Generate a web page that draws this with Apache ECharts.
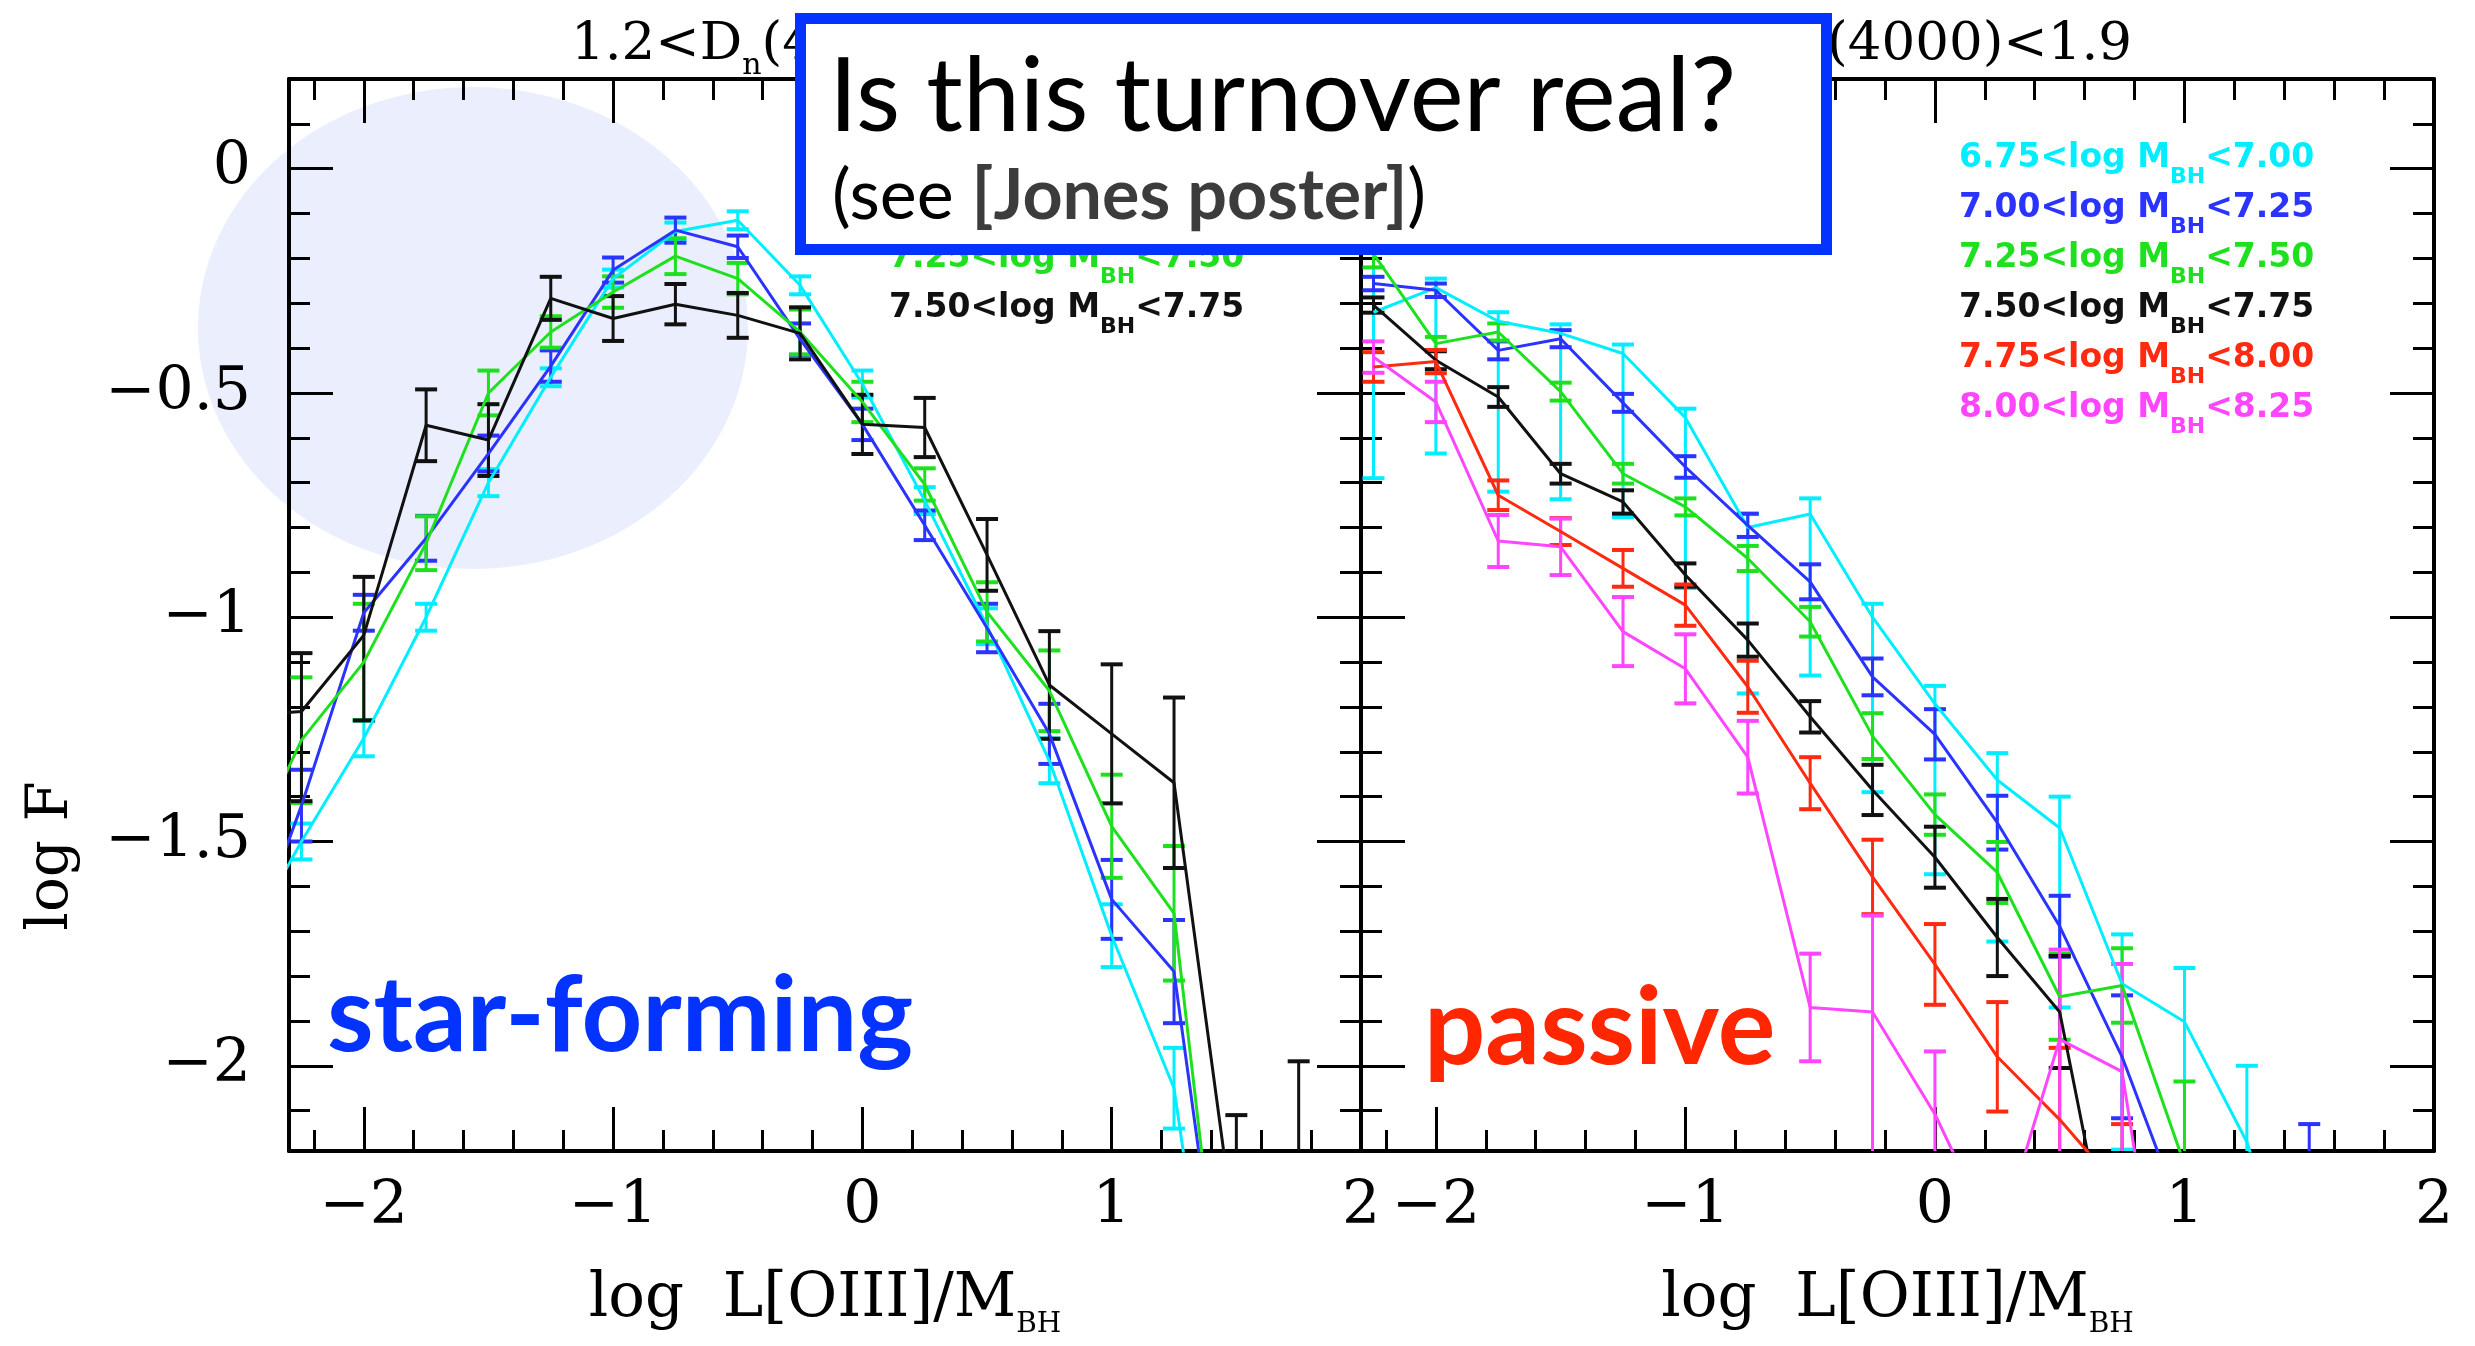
<!DOCTYPE html>
<html><head><meta charset="utf-8">
<script src="https://cdn.jsdelivr.net/npm/echarts@6/dist/echarts.min.js"></script>
<style>html,body{margin:0;padding:0;background:#fff}#c{width:2475px;height:1346px}</style>
</head><body><div id="c"></div>
<script>
// ---------- data ----------
const xLeft = [-2.5, -2.25, -2, -1.75, -1.5, -1.25, -1, -0.75, -0.5, -0.25, 0, 0.25, 0.5, 0.75, 1, 1.25, 1.5, 1.75];
const sfCyan  = [-1.75, -1.50, -1.27, -1.00, -0.70, -0.465, -0.245, -0.14, -0.115, -0.26, -0.48, -0.74, -1.02, -1.32, -1.71, -2.05, -3.0, null];
const sfCyanErr  = [null, 0.04, 0.04, 0.03, 0.03, 0.02, 0.02, 0.02, 0.02, 0.02, 0.03, 0.03, 0.04, 0.05, 0.07, 0.09, null, null];
const sfBlue  = [-1.8, -1.42, -0.99, -0.824, -0.635, -0.44, -0.226, -0.137, -0.174, -0.38, -0.57, -0.795, -1.024, -1.26, -1.629, -1.79, -2.8, null];
const sfBlueErr  = [null, 0.08, 0.04, 0.05, 0.04, 0.035, 0.028, 0.028, 0.025, 0.035, 0.035, 0.033, 0.054, 0.067, 0.088, 0.115, null, null];
const sfGreen = [-1.57, -1.274, -1.10, -0.835, -0.50, -0.364, -0.275, -0.195, -0.245, -0.364, -0.52, -0.704, -0.988, -1.164, -1.466, -1.66, -2.86, null];
const sfGreenErr = [null, 0.14, 0.13, 0.06, 0.05, 0.035, 0.035, 0.04, 0.035, 0.05, 0.045, 0.036, 0.066, 0.09, 0.115, 0.15, null, null];
const sfBlack = [-1.22, -1.21, -1.04, -0.572, -0.605, -0.289, -0.334, -0.302, -0.327, -0.367, -0.57, -0.577, -0.861, -1.151, -1.26, -1.369, -2.4, -2.5];
const sfBlackErr = [null, [0.2, 0.13], [0.19, 0.13], 0.08, 0.08, 0.048, 0.05, 0.045, 0.05, 0.058, 0.066, 0.066, 0.08, 0.12, 0.155, 0.19, 0.29, 0.51];

const xRight = [-2.25, -2, -1.75, -1.5, -1.25, -1, -0.75, -0.5, -0.25, 0, 0.25, 0.5, 0.75, 1, 1.25, 1.5];
const psCyan  = [-0.32, -0.265, -0.34, -0.367, -0.412, -0.555, -0.80, -0.77, -1.0, -1.193, -1.363, -1.47, -1.817, -1.902, -2.17, -2.6];
const psCyanErr = [[0.37,0.15],[0.37,0.02],[0.38,0.02],[0.37,0.02],[0.365,0.02],[0.38,0.02],[0.37,0.03],[0.36,0.035],[0.39,0.03],[0.38,0.04],[0.36,0.06],[0.4,0.07],[0.37,0.11],[0.4,0.12],[0.4,0.17],null];
const psBlue  = [-0.256, -0.271, -0.405, -0.379, -0.522, -0.665, -0.795, -0.921, -1.133, -1.261, -1.458, -1.689, -1.98, -2.35, -2.6, -2.3];
const psBlueErr = [0.015, 0.015, 0.02, 0.019, 0.02, 0.024, 0.026, 0.039, 0.041, 0.056, 0.06, 0.068, 0.137, null, null, 0.17];
const psGreen = [-0.19, -0.39, -0.364, -0.497, -0.68, -0.754, -0.869, -1.01, -1.265, -1.44, -1.569, -1.846, -1.821, -2.22, -2.7, null];
const psGreenErr = [0.03, 0.015, 0.019, 0.02, 0.022, 0.019, 0.028, 0.033, 0.051, 0.045, 0.068, 0.096, 0.083, [0.3,0.185], null, null];
const psBlack = [-0.304, -0.427, -0.509, -0.68, -0.743, -0.906, -1.051, -1.222, -1.385, -1.535, -1.714, -1.88, -2.58, null, null, null];
const psBlackErr = [0.017, 0.02, 0.022, 0.022, 0.026, 0.026, 0.037, 0.035, 0.056, 0.068, 0.086, 0.125, null, null, null, null];
const psRed   = [-0.442, -0.43, -0.728, -0.809, -0.891, -0.973, -1.155, -1.37, -1.579, -1.774, -1.98, -2.12, -2.28, null, null, null];
const psRedErr = [0.033, 0.026, 0.033, 0.03, 0.041, 0.046, 0.058, 0.058, 0.083, 0.09, 0.122, [0.3,0.16], [0.3,0.15], null, null, null];
const psMagenta = [-0.42, -0.52, -0.83, -0.843, -1.032, -1.115, -1.312, -1.87, -1.88, -2.108, -2.4, -1.941, -2.013, -2.9, null, null];
const psMagentaErr = [0.035, 0.045, 0.058, 0.063, 0.077, 0.077, 0.081, 0.12, [3,0.215], [3,0.14], null, [3,0.2], [3,0.24], null, null, null];

const massLo = ['6.75', '7.00', '7.25', '7.50', '7.75', '8.00'];
const massHi = ['7.00', '7.25', '7.50', '7.75', '8.00', '8.25'];
const binColors = ['#00eeff', '#2b33ff', '#1fe01f', '#111111', '#ff2a10', '#ff45ff'];

const xMajorTicks = [-2, -1, 0, 1, 2];
const xMinorTicks = [-2.2, -1.8, -1.6, -1.4, -1.2, -0.8, -0.6, -0.4, -0.2, 0.2, 0.4, 0.6, 0.8, 1.2, 1.4, 1.6, 1.8];
const yMajorTicks = [0, -0.5, -1, -1.5, -2];
const yMinorTicks = [0.1, -0.1, -0.2, -0.3, -0.4, -0.6, -0.7, -0.8, -0.9, -1.1, -1.2, -1.3, -1.4, -1.6, -1.7, -1.8, -1.9, -2.1];

const panelTitles = ['1.2<D{s|n}(4000)<1.4', '1.7<D{s|n}(4000)<1.9'];
const xAxisTitle = 'log  L[OIII]/M';
const yAxisTitle = 'log F';

// ---------- chart ----------
const chart = echarts.init(document.getElementById('c'), null, {renderer: 'canvas'});
const fmt = v => (v < 0 ? '\u2212' + String(-v) : String(v));
const serif = 'DejaVu Serif';
const grids = [
  {left: 289, top: 79, width: 1072, height: 1072},
  {left: 1361, top: 79, width: 1073, height: 1072}
];
const xAxes = [], yAxes = [];
grids.forEach((g, gi) => {
  const base = {gridIndex: gi, type: 'value', min: -2.3, max: 2, splitLine: {show: false}};
  xAxes.push(Object.assign({}, base, {
    position: 'bottom',
    axisLine: {show: true, onZero: false, lineStyle: {color: '#000', width: 4}},
    axisTick: {show: true, inside: true, length: 44, lineStyle: {color: '#000', width: 3}, customValues: xMajorTicks},
    axisLabel: {show: true, customValues: xMajorTicks, formatter: fmt, margin: 26, fontFamily: serif, fontSize: 60, color: '#000'},
    name: '{m|' + xAxisTitle + '}{s|BH}', nameLocation: 'middle', nameGap: 110,
    nameTextStyle: {color: '#000', rich: {
      m: {fontFamily: serif, fontSize: 61, lineHeight: 78, verticalAlign: 'middle', color: '#000'},
      s: {fontFamily: serif, fontSize: 28, lineHeight: 28, verticalAlign: 'bottom', color: '#000'}}}
  }));
  xAxes.push(Object.assign({}, base, {
    position: 'bottom', axisLine: {show: false, onZero: false},
    axisTick: {show: true, inside: true, length: 21, lineStyle: {color: '#000', width: 3}, customValues: xMinorTicks},
    axisLabel: {show: false}
  }));
  xAxes.push(Object.assign({}, base, {
    position: 'top', axisLine: {show: true, onZero: false, lineStyle: {color: '#000', width: 4}},
    axisTick: {show: true, inside: true, length: 44, lineStyle: {color: '#000', width: 3}, customValues: xMajorTicks},
    axisLabel: {show: false}
  }));
  xAxes.push(Object.assign({}, base, {
    position: 'top', axisLine: {show: false, onZero: false},
    axisTick: {show: true, inside: true, length: 21, lineStyle: {color: '#000', width: 3}, customValues: xMinorTicks},
    axisLabel: {show: false}
  }));
  const ybase = {gridIndex: gi, type: 'value', min: -2.19, max: 0.2, splitLine: {show: false}};
  yAxes.push(Object.assign({}, ybase, {
    position: 'left', axisLine: {show: true, onZero: false, lineStyle: {color: '#000', width: 4}},
    axisTick: {show: true, inside: true, length: 44, lineStyle: {color: '#000', width: 3}, customValues: yMajorTicks},
    axisLabel: {show: gi === 0, customValues: yMajorTicks, formatter: fmt, margin: 38, fontFamily: serif, fontSize: 60, color: '#000'}
  }));
  yAxes.push(Object.assign({}, ybase, {
    position: 'left', axisLine: {show: false, onZero: false},
    axisTick: {show: true, inside: true, length: 21, lineStyle: {color: '#000', width: 3}, customValues: yMinorTicks},
    axisLabel: {show: false}
  }));
  yAxes.push(Object.assign({}, ybase, {
    position: 'right', axisLine: {show: true, onZero: false, lineStyle: {color: '#000', width: 4}},
    axisTick: {show: true, inside: true, length: 44, lineStyle: {color: '#000', width: 3}, customValues: yMajorTicks},
    axisLabel: {show: false}
  }));
  yAxes.push(Object.assign({}, ybase, {
    position: 'right', axisLine: {show: false, onZero: false},
    axisTick: {show: true, inside: true, length: 21, lineStyle: {color: '#000', width: 3}, customValues: yMinorTicks},
    axisLabel: {show: false}
  }));
});

function lineSeries(name, xs, ys, color, axisIdx) {
  const data = [];
  xs.forEach((x, i) => { if (ys[i] != null) data.push([x, ys[i]]); });
  return {type: 'line', name, xAxisIndex: axisIdx, yAxisIndex: axisIdx, data, symbol: 'none', clip: true,
    lineStyle: {color, width: 3}, itemStyle: {color}, animation: false, silent: true};
}
function errSeries(name, xs, ys, errs, color, axisIdx) {
  const data = [];
  xs.forEach((x, i) => {
    const e = errs[i];
    if (e == null || ys[i] == null) return;
    const lo = Array.isArray(e) ? e[0] : e, hi = Array.isArray(e) ? e[1] : e;
    data.push([x, ys[i], lo, hi]);
  });
  return {type: 'custom', name, xAxisIndex: axisIdx, yAxisIndex: axisIdx, clip: true, data,
    encode: {x: 0, y: 1}, animation: false, silent: true,
    renderItem: (params, api) => {
      const x = api.value(0), y = api.value(1), lo = api.value(2), hi = api.value(3);
      const a = api.coord([x, y - lo]), b = api.coord([x, y + hi]);
      const w = 11;
      return {type: 'group', children: [
        {type: 'line', shape: {x1: a[0], y1: a[1], x2: b[0], y2: b[1]}, style: {stroke: color, lineWidth: 3}},
        {type: 'line', shape: {x1: a[0] - w, y1: a[1], x2: a[0] + w, y2: a[1]}, style: {stroke: color, lineWidth: 4}},
        {type: 'line', shape: {x1: b[0] - w, y1: b[1], x2: b[0] + w, y2: b[1]}, style: {stroke: color, lineWidth: 4}}
      ]};
    }};
}

const series = [];
const leftSets = [[sfCyan, sfCyanErr], [sfBlue, sfBlueErr], [sfGreen, sfGreenErr], [sfBlack, sfBlackErr]];
leftSets.forEach((s, k) => {
  const nm = 'SF ' + massLo[k] + '-' + massHi[k];
  series.push(lineSeries(nm, xLeft, s[0], binColors[k], 0));
  series.push(errSeries(nm + ' err', xLeft, s[0], s[1], binColors[k], 0));
});
const rightSets = [[psCyan, psCyanErr], [psBlue, psBlueErr], [psGreen, psGreenErr], [psBlack, psBlackErr], [psRed, psRedErr], [psMagenta, psMagentaErr]];
rightSets.forEach((s, k) => {
  const nm = 'P ' + massLo[k] + '-' + massHi[k];
  series.push(lineSeries(nm, xRight, s[0], binColors[k], 4));
  series.push(errSeries(nm + ' err', xRight, s[0], s[1], binColors[k], 4));
});

// ---------- annotations ----------
const legendRich = (color) => ({
  m: {fontFamily: 'DejaVu Sans', fontWeight: 'bold', fontSize: 33, lineHeight: 60, verticalAlign: 'middle', fill: color},
  s: {fontFamily: 'DejaVu Sans', fontWeight: 'bold', fontSize: 22, lineHeight: 22, verticalAlign: 'bottom', fill: color}
});
const graphics = [];
graphics.push({type: 'circle', x: 473, y: 328, scaleY: 241 / 275, shape: {cx: 0, cy: 0, r: 275},
  style: {fill: '#ebeefc'}, z: -1, silent: true});
function legendText(k, x0) {
  return {type: 'text', x: x0, y: 158 + 50 * k, z: 5, silent: true,
    style: {text: '{m|' + massLo[k] + '<log M}{s|BH}{m|<' + massHi[k] + '}', rich: legendRich(binColors[k]),
      align: 'left', verticalAlign: 'middle', textAlign: 'left', textVerticalAlign: 'middle'}};
}
for (let k = 0; k < 4; k++) graphics.push(legendText(k, 889));
for (let k = 0; k < 6; k++) graphics.push(legendText(k, 1959));
const titleRich = {
  m: {fontFamily: serif, fontSize: 53, lineHeight: 72, verticalAlign: 'middle', fill: '#000'},
  s: {fontFamily: serif, fontSize: 30, lineHeight: 30, verticalAlign: 'bottom', fill: '#000'}
};
const titleText = t => '{m|' + t.replace('{s|n}', '}{s|n}{m|') + '}';
graphics.push({type: 'text', x: 571, y: 45, z: 5, silent: true,
  style: {text: titleText(panelTitles[0]), rich: titleRich, align: 'left', verticalAlign: 'middle', textAlign: 'left', textVerticalAlign: 'middle'}});
graphics.push({type: 'text', x: 2132, y: 45, z: 5, silent: true,
  style: {text: titleText(panelTitles[1]), rich: titleRich, align: 'right', verticalAlign: 'middle', textAlign: 'right', textVerticalAlign: 'middle'}});
graphics.push({type: 'text', x: 52, y: 856, rotation: Math.PI / 2, z: 5, silent: true,
  style: {text: yAxisTitle, font: '58px "DejaVu Serif"', fill: '#000', align: 'center', verticalAlign: 'middle', textAlign: 'center', textVerticalAlign: 'middle'}});
graphics.push({type: 'text', x: 327, y: 1017, z: 50, silent: true,
  style: {text: 'star-forming', font: 'bold 106px Lato', fill: '#0433ff', align: 'left', verticalAlign: 'middle', textAlign: 'left', textVerticalAlign: 'middle'}});
graphics.push({type: 'text', x: 1424, y: 1029, z: 50, silent: true,
  style: {text: 'passive', font: 'bold 108px Lato', fill: '#ff2600', align: 'left', verticalAlign: 'middle', textAlign: 'left', textVerticalAlign: 'middle'}});
graphics.push({type: 'rect', shape: {x: 800.5, y: 18.5, width: 1026, height: 231}, z: 100, silent: true,
  style: {fill: '#fff', stroke: '#0433ff', lineWidth: 11}});
graphics.push({type: 'text', x: 829, y: 98, z: 101, silent: true,
  style: {text: 'Is this turnover real?', font: '102px Lato', fill: '#000', align: 'left', verticalAlign: 'middle', textAlign: 'left', textVerticalAlign: 'middle'}});
graphics.push({type: 'text', x: 832, y: 196, z: 101, silent: true,
  style: {text: '{n|(see }{b|[Jones poster]}{n|)}', align: 'left', verticalAlign: 'middle', textAlign: 'left', textVerticalAlign: 'middle',
    rich: {n: {fontFamily: 'Lato', fontSize: 70, fill: '#000'}, b: {fontFamily: 'Lato', fontWeight: 'bold', fontSize: 70, fill: '#3c3c3c'}}}});

chart.setOption({
  animation: false,
  backgroundColor: '#ffffff',
  grid: grids,
  xAxis: xAxes,
  yAxis: yAxes,
  series: series,
  graphic: {elements: graphics}
});
</script>
</body></html>
